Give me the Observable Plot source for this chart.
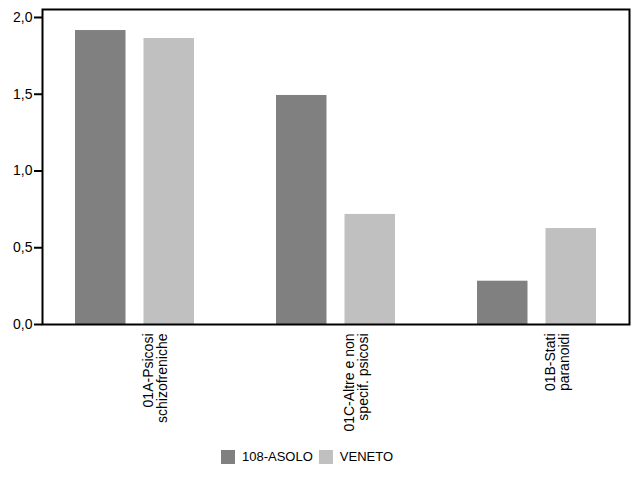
<!DOCTYPE html>
<html>
<head>
<meta charset="utf-8">
<script src="https://cdn.jsdelivr.net/npm/d3@7"></script>
<script src="https://cdn.jsdelivr.net/npm/@observablehq/plot@0.6"></script>
<style>
  html, body { margin: 0; padding: 0; background: #fff; }
  #chart { width: 640px; font-family: "Liberation Sans", Arial, sans-serif; }
  .lg, .lg-swatches, .lg-swatches-wrap { font-family: "Liberation Sans", Arial, sans-serif !important; font-size: 13px !important; color: #000 !important; margin: 0 !important; }
  .lg-swatches-wrap { min-height: 0 !important; padding-left: 221px; padding-top: 3px; }
  .lg-swatch { margin-right: 6px !important; }
  .lg-swatch > svg { margin-right: 7px !important; }
</style>
</head>
<body>
<div id="chart"></div>
<script>
const categories = ["01A-Psicosi schizofreniche", "01C-Altre e non specif. psicosi", "01B-Stati paranoidi"];
const categoryLabels = ["01A-Psicosi\nschizofreniche", "01C-Altre e non\nspecif. psicosi", "01B-Stati\nparanoidi"];
const series = ["108-ASOLO", "VENETO"];
const asoloValues = [1.915, 1.492, 0.282];
const venetoValues = [1.863, 0.717, 0.625];
const yTicks = [0, 0.5, 1.0, 1.5, 2.0];
const colors = ["#808080", "#c0c0c0"];

const data = categories.flatMap((c, i) => [
  {cat: c, series: series[0], value: asoloValues[i]},
  {cat: c, series: series[1], value: venetoValues[i]}
]);
const labelOf = new Map(categories.map((c, i) => [c, categoryLabels[i]]));
const fmt = d => d.toFixed(1).replace(".", ",");

const plot = Plot.plot({
  width: 640,
  height: 446,
  marginTop: 9,
  marginLeft: 42,
  marginRight: 11,
  marginBottom: 122,
  style: {fontFamily: "'Liberation Sans', Arial, sans-serif", fontSize: "14px", color: "#000", background: "#fff"},
  x: {domain: categories, paddingInner: 0.406, paddingOuter: 0.156, label: null},
  y: {domain: [0, 2.052], label: null},
  color: {domain: series, range: colors},
  marks: [
    Plot.barY(data.filter(d => d.series === series[0]), {x: "cat", y: "value", fill: "series", insetRight: 68.5}),
    Plot.barY(data.filter(d => d.series === series[1]), {x: "cat", y: "value", fill: "series", insetLeft: 68.5}),
    Plot.axisY({ticks: yTicks, tickFormat: fmt, tickSize: 8, tickPadding: 2, strokeWidth: 2, label: null, fill: "#000", fontSize: 14}),
    Plot.axisX({tickSize: 0, tickRotate: -90, tickPadding: 9, tickFormat: d => labelOf.get(d), lineAnchor: "top", textAnchor: "end", dx: 8, lineHeight: 1.0, label: null, fill: "#000", fontSize: 14}),
    Plot.frame({stroke: "#000", strokeWidth: 2})
  ]
});
document.getElementById("chart").appendChild(plot);

const legend = Plot.legend({
  color: {type: "ordinal", domain: series, range: colors},
  swatchSize: 14,
  className: "lg",
  style: {fontFamily: "'Liberation Sans', Arial, sans-serif", fontSize: "13px", color: "#000"}
});
document.getElementById("chart").appendChild(legend);
</script>
</body>
</html>
